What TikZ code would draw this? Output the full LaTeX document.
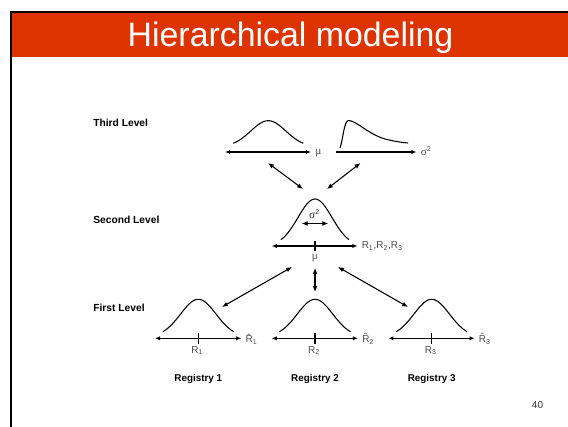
\documentclass[tikz,border=0pt]{standalone}
\usepackage{fontspec}
\setmainfont{Liberation Sans}
\newfontfamily\greekfont{Liberation Serif}
\usetikzlibrary{arrows.meta}

\newlength{\du}
\setlength{\du}{0.75pt}

\definecolor{bannercolor}{rgb}{0.866000, 0.200000, 0.000000}
\definecolor{labelcolor}{rgb}{0.300000, 0.300000, 0.300000}

\tikzset{
  levellabel/.style={anchor=west, inner sep=0pt, font=\fontsize{7.7}{9}\selectfont\bfseries},
  reglabel/.style={anchor=base, inner sep=0pt, font=\fontsize{7.4}{9}\selectfont\bfseries},
  axislabel/.style={anchor=west, inner xsep=3pt, inner ysep=1pt, text=labelcolor, font=\fontsize{7.5}{9}\selectfont},
  ticklabel/.style={inner sep=1pt, text=labelcolor, font=\fontsize{7.5}{9}\selectfont},
  axis/.style={line width=1pt, >={Latex[length=3.8pt,width=3.2pt]}},
  curve/.style={line width=0.8pt},
  link/.style={line width=0.8pt, <->, >={Latex[length=4.4pt,width=3.6pt]}},
}

% bell curve: centre x, base y, height, spread
\newcommand{\bellcurve}[4]{%
  \begin{scope}[x=\du,y=\du]
  \draw[curve] plot[domain=-2:2,samples=41,smooth] ({#1+#4*\x},{#2-#3*exp(-0.5*(\x)*(\x)))});
  \end{scope}}
\newcommand{\mug}{{\greekfont\fontsize{8.5}{9}\selectfont μ}}
\newcommand{\sigsq}{{\greekfont\fontsize{8.5}{9}\selectfont σ}\textsuperscript{2}}

\begin{document}
\begin{tikzpicture}
\pgftransformxscale{1.000000}
\pgftransformyscale{-1.000000}
\useasboundingbox (0\du,0\du) rectangle (568\du,427\du);

% title bar
\fill[bannercolor] (12\du,12.5\du) rectangle (568\du,57.5\du);
\draw[line width=1.4pt] (11\du,427\du) -- (11\du,11.8\du) -- (568\du,11.8\du);
\node[anchor=base, text=white, inner sep=0pt, font=\fontsize{25.4}{30}\selectfont] (title) at (290.5\du,47\du) {Hierarchical modeling};

% level names
\node[levellabel] (third) at (93\du,123\du) {Third Level};
\node[levellabel] (second) at (93\du,220\du) {Second Level};
\node[levellabel] (first) at (93\du,308\du) {First Level};

% third level: prior on mu
\bellcurve{268.3}{146.8}{26.1}{17.5}
\coordinate (mu3l) at (225\du,152\du);
\node[axislabel] (mu3) at (311\du,153\du) {\mug};
\draw[axis,<->] (mu3l) -- (mu3.west |- mu3l);

% third level: prior on sigma^2
\coordinate (sg3l) at (336\du,152\du);
\node[axislabel] (sg3) at (416.5\du,151\du) {\sigsq};
\draw[axis,->] (sg3l) -- (sg3.west |- sg3l);
\draw[curve] (340\du,148\du) .. controls (343\du,140\du) and (344\du,120.5\du) .. (348.5\du,120.5\du)
  .. controls (356\du,120.5\du) and (368\du,134\du) .. (385\du,139\du)
  .. controls (395\du,141.5\du) and (402\du,142.5\du) .. (408\du,143\du);

\coordinate (mu3a) at (268\du,163\du);
\coordinate (sg3a) at (360.5\du,163\du);
\coordinate (lvl2l) at (303\du,189\du);
\coordinate (lvl2r) at (327\du,189\du);
\draw[link] (mu3a) -- (lvl2l);
\draw[link] (sg3a) -- (lvl2r);

% second level
\bellcurve{315}{246}{47}{17}
\node[ticklabel, text=black!80] (sg2) at (314.5\du,214.5\du) {\sigsq};
\coordinate (sg2l) at (301.7\du,223.5\du);
\coordinate (sg2r) at (328.3\du,223.5\du);
\draw[link] (sg2l) -- (sg2r);
\coordinate (ax2l) at (271.7\du,246\du);
\node[axislabel] (rall) at (357.5\du,246\du) {R\textsubscript{1},R\textsubscript{2},R\textsubscript{3}};
\draw[axis,<->] (ax2l) -- (rall.west);
\draw[axis] (315\du,241\du) -- (315\du,251\du);
\node[ticklabel] (mu2) at (315\du,258\du) {\mug};

% first level
\foreach \cx/\i in {198.3/1, 315/2, 431.7/3}{
  \bellcurve{\cx}{336.8}{37.5}{17.75}
  \coordinate (ax\i l) at (\cx\du-43.3\du,338.3\du);
  \node[axislabel] (rhat\i) at (\cx\du+43\du,339\du) {\^{R}\textsubscript{\i}};
  \draw[axis,<->] (ax\i l) -- (rhat\i.west |- ax\i l);
  \draw[axis] (\cx\du,333\du) -- (\cx\du,344\du);
  \node[ticklabel] (r\i) at (\cx\du-1\du,350.5\du) {R\textsubscript{\i}};
  \node[reglabel] (reg\i) at (\cx\du,382\du) {Registry \i};
}

\coordinate (mu2a) at (292\du,267\du);
\coordinate (mu2b) at (315\du,268\du);
\coordinate (mu2c) at (338\du,267\du);
\coordinate (lvl1a) at (222\du,307\du);
\coordinate (lvl1b) at (315\du,292\du);
\coordinate (lvl1c) at (408\du,307\du);
\draw[link] (mu2a) -- (lvl1a);
\draw[link] (mu2b) -- (lvl1b);
\draw[link] (mu2c) -- (lvl1c);

% slide number
\node[inner sep=0pt, anchor=base, text=black!80, font=\fontsize{7.5}{9}\selectfont] (pagenum) at (537.5\du,409\du) {40};
\end{tikzpicture}
\end{document}
